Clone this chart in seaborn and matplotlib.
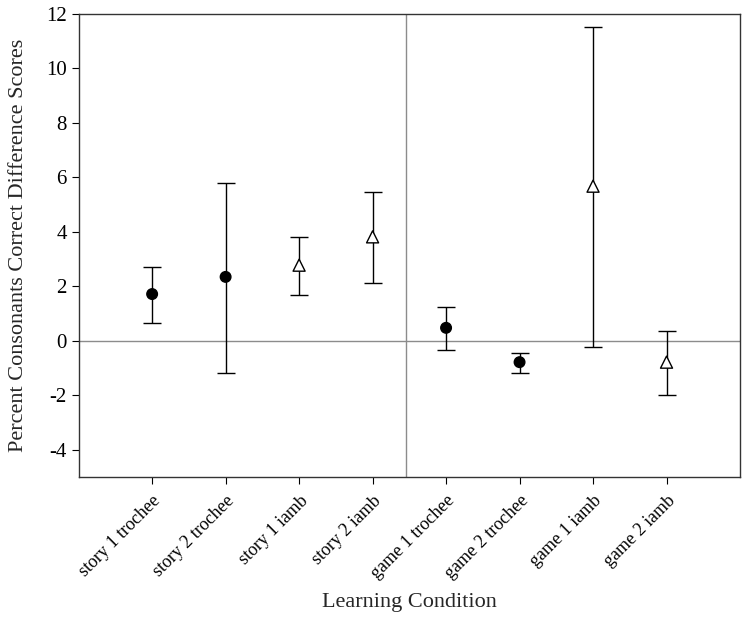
import pandas as pd
import matplotlib
matplotlib.use("Agg")
import matplotlib.pyplot as plt
import seaborn as sns

conditions = ["story 1 trochee", "story 2 trochee", "story 1 iamb", "story 2 iamb",
              "game 1 trochee", "game 2 trochee", "game 1 iamb", "game 2 iamb"]
stress = ["trochee", "trochee", "iamb", "iamb", "trochee", "trochee", "iamb", "iamb"]
means = [1.72, 2.35, 2.78, 3.82, 0.48, -0.78, 5.68, -0.78]
upper = [2.71, 5.80, 3.81, 5.46, 1.23, -0.45, 11.54, 0.35]
lower = [0.65, -1.16, 1.68, 2.12, -0.35, -1.17, -0.23, -1.98]

df = pd.DataFrame({"condition": conditions, "stress": stress, "mean": means,
                   "upper": upper, "lower": lower})

sns.set_style("ticks")
plt.rcParams["font.family"] = ["Liberation Serif", "DejaVu Serif"]
plt.rcParams["axes.unicode_minus"] = False

fig = plt.figure(figsize=(7.49, 6.37), dpi=100)
ax = fig.add_axes([0.105, 0.251, 0.883, 0.727])

# reference lines
ax.axhline(0, color="#8c8c8c", lw=1, zorder=1)
ax.axvline(3.45, color="#8c8c8c", lw=1, zorder=1)

# error bars
pos = range(len(df))
ax.errorbar(list(pos), df["mean"],
            yerr=[df["mean"] - df["lower"], df["upper"] - df["mean"]],
            fmt="none", ecolor="black", elinewidth=1, capsize=6.5, capthick=1, zorder=2)

sns.scatterplot(data=df, x="condition", y="mean", hue="stress", style="stress",
                size="stress", sizes={"trochee": 58, "iamb": 75},
                palette={"trochee": "black", "iamb": "white"},
                markers={"trochee": "o", "iamb": "^"},
                edgecolor="black", linewidth=1, legend=False, ax=ax, zorder=3)

ax.set_xlim(-1, 8)
ax.set_ylim(-5, 12)
ax.set_yticks(range(-4, 13, 2))
ax.set_xticks(list(pos))
ax.set_xticklabels(conditions, rotation=45, ha="right", rotation_mode="anchor")
ax.tick_params(axis="both", colors="black", direction="out", length=5)
ax.tick_params(axis="y", labelsize=15)
ax.tick_params(axis="x", labelsize=13, pad=6)
for side in ["left", "right", "top", "bottom"]:
    ax.spines[side].set_visible(True)
    ax.spines[side].set_color("#333333")
    ax.spines[side].set_linewidth(1)

ax.set_xlabel("Learning Condition", fontsize=16)
ax.set_ylabel("Percent Consonants Correct Difference Scores", fontsize=16)
ax.xaxis.set_label_coords(0.5, -0.25)
ax.yaxis.set_label_coords(-0.077, 0.5)

fig.savefig("out.png", dpi=100)
